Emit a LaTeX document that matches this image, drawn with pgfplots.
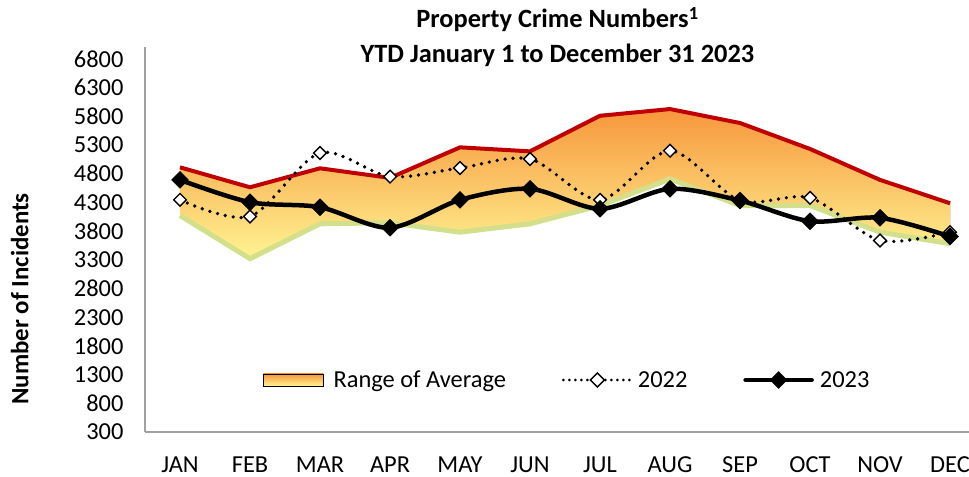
\documentclass[border=0pt]{standalone}
\usepackage{pgfplots}
\pgfplotsset{compat=1.18}
\usepgfplotslibrary{fillbetween}
\usepackage{fontspec}
\setmainfont{Carlito}
\definecolor{redline}{HTML}{C00000}
\definecolor{greenline}{HTML}{D3DF8A}
\definecolor{gtop}{HTML}{F7963C}
\definecolor{gmid}{HTML}{FDC664}
\definecolor{gbot}{HTML}{FFF492}
\definecolor{axisgray}{HTML}{A0A0A0}
\begin{document}
\begin{tikzpicture}
\begin{axis}[
  at={(0,0)}, anchor=south west,
  scale only axis, width=824bp, height=384.6bp,
  xmin=-0.5, xmax=11.271, ymin=300, ymax=7000,
  axis x line=bottom, axis y line=left,
  axis line style={axisgray, line width=1.3bp, -},
  xtick={0,...,11},
  xticklabels={JAN,FEB,MAR,APR,MAY,JUN,JUL,AUG,SEP,OCT,NOV,DEC},
  ytick={300,800,...,6800},
  major tick length=0pt,
  tick style={draw=none},
  /pgf/number format/assume math mode=true,
  /pgf/number format/1000 sep={},
  ticklabel style={font=\fontsize{24.5}{28}\selectfont},
  yticklabel style={anchor=east, xshift=-18bp},
  xticklabel style={anchor=north, yshift=-21bp},
  ylabel={Number of Incidents},
  ylabel style={font=\bfseries\fontsize{25}{28}\selectfont, at={(axis description cs:-0.152,0.346)}, anchor=center, rotate=0},
  legend columns=3,
  legend style={draw=none, fill=none, at={(axis cs:1.1857,1206)}, anchor=west,
    inner sep=0pt, font=\fontsize{24.5}{28}\selectfont,
    nodes={inner sep=0pt},
    /tikz/column 2/.style={column sep=56bp},
    /tikz/column 4/.style={column sep=56bp}},
]
\addlegendimage{legend image code/.code={\shade[top color=gtop, bottom color=gbot] (0bp,-6bp) rectangle (60bp,6bp); \path (70bp,0bp);}}
\addlegendentry{Range of Average}
\addlegendimage{black, line width=3bp, dash pattern=on 0bp off 6bp, line cap=round,
  mark=square*, mark size=5bp, mark options={solid, fill=white, draw=black, line width=1.4bp, rotate=45},
  legend image code/.code={\draw[mark repeat=2, mark phase=2] plot coordinates {(0bp,0bp) (34bp,0bp) (66bp,0bp)}; \path (73bp,0bp);}}
\addlegendentry{2022}
\addlegendimage{black, line width=4.5bp, line cap=round,
  mark=square*, mark size=6bp, mark options={solid, fill=black, draw=black, line width=0.5bp, rotate=45},
  legend image code/.code={\draw[mark repeat=2, mark phase=2] plot coordinates {(0bp,0bp) (33bp,0bp) (66bp,0bp)}; \path (72bp,0bp);}}
\addlegendentry{2023}

\addplot[name path=upper, draw=none, forget plot] coordinates {
(0,4911) (1,4563) (2,4894) (3,4727) (4,5259) (5,5189) (6,5809) (7,5926) (8,5683) (9,5231) (10,4692) (11,4285)};
\addplot[name path=lower, draw=none, forget plot] coordinates {
(0,4071) (1,3319) (2,3927) (3,3945) (4,3781) (5,3927) (6,4245) (7,4709) (8,4245) (9,4245) (10,3781) (11,3580)};
\addplot[top color=gtop, middle color=gmid, bottom color=gbot, draw=none, forget plot] fill between[of=upper and lower];
\addplot[greenline, line width=5bp, forget plot] coordinates {
(0,4071) (1,3319) (2,3927) (3,3945) (4,3781) (5,3927) (6,4245) (7,4709) (8,4245) (9,4245) (10,3781) (11,3580)};
\addplot[redline, line width=4bp, forget plot] coordinates {
(0,4911) (1,4563) (2,4894) (3,4727) (4,5259) (5,5189) (6,5809) (7,5926) (8,5683) (9,5231) (10,4692) (11,4285)};
% 2022
\addplot[black, line width=3.7bp, dash pattern=on 0bp off 8bp, line cap=round, smooth,
  mark=square*, mark size=4.5bp, mark options={solid, fill=white, draw=black, line width=1.4bp, rotate=45}, forget plot]
  coordinates {
(0,4344) (1,4054) (2,5161) (3,4749) (4,4900) (5,5057) (6,4344) (7,5201) (8,4332) (9,4379) (10,3637) (11,3781)};
% 2023
\addplot[black, line width=4.5bp, smooth, line join=round,
  mark=square*, mark size=6bp, mark options={solid, fill=black, draw=black, line width=0.5bp, rotate=45}, forget plot]
  coordinates {
(0,4692) (1,4303) (2,4216) (3,3858) (4,4344) (5,4536) (6,4188) (7,4536) (8,4332) (9,3972) (10,4031) (11,3706)};
\end{axis}
\node[font=\bfseries\fontsize{26.5}{30}\selectfont, anchor=base, inner sep=0pt] at (412.5bp,404bp)
  {Property Crime Numbers\textsuperscript{1}};
\node[font=\bfseries\fontsize{26.5}{30}\selectfont, anchor=base, inner sep=0pt] at (412.5bp,369bp)
  {YTD January 1 to December 31 2023};
\pgfresetboundingbox
\useasboundingbox (-145bp,-45bp) rectangle (824bp,432bp);
\end{tikzpicture}
\end{document}
